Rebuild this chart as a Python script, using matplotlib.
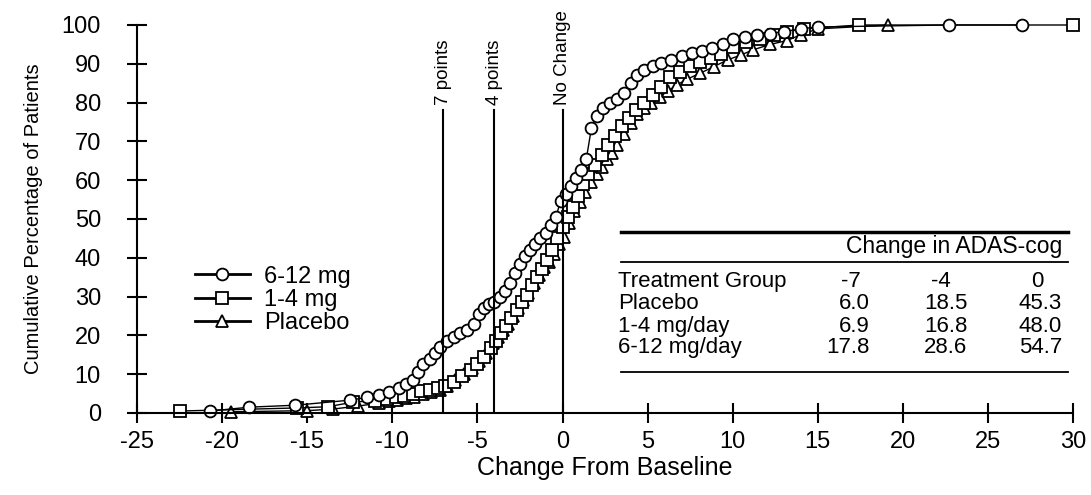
import matplotlib
matplotlib.use("Agg")
import matplotlib.pyplot as plt

# data
x_hi = [-20.7, -18.4, -15.7, -12.5, -11.5, -10.8, -10.2, -9.6, -9.2, -8.8, -8.5, -8.2, -7.8, -7.5,
        -7.2, -6.8, -6.4, -6.0, -5.6, -5.2, -4.9, -4.6, -4.3, -4.0, -3.7, -3.4, -3.1, -2.8, -2.5,
        -2.2, -1.9, -1.6, -1.3, -1.0, -0.7, -0.4, -0.1, 0.2, 0.5, 0.8, 1.1, 1.4, 1.7, 2.0, 2.4,
        2.8, 3.2, 3.6, 4.0, 4.4, 4.8, 5.3, 5.8, 6.4, 7.0, 7.6, 8.2, 8.8, 9.4, 10.0, 10.7, 11.4,
        12.2, 13.0, 14.0, 15.0, 22.7, 27.0]
y_hi = [0.5, 1.5, 2.0, 3.3, 4.0, 4.6, 5.5, 6.5, 7.5, 8.5, 10.5, 12.5, 14.0, 15.5, 17.0, 18.5,
        19.5, 20.5, 21.5, 23.0, 25.5, 27.0, 28.0, 28.6, 30.0, 31.5, 33.5, 36.0, 38.5, 40.5, 42.0,
        43.5, 45.0, 46.5, 48.5, 50.5, 54.7, 56.5, 58.5, 60.5, 62.5, 65.5, 73.5, 76.5, 78.5, 80.0,
        81.0, 82.5, 85.0, 87.0, 88.5, 89.5, 90.3, 91.0, 92.0, 92.7, 93.3, 94.0, 95.0, 96.3, 97.0,
        97.4, 97.8, 98.3, 99.0, 99.5, 100.0, 100.0]

x_lo = [-22.5, -15.6, -13.8, -12.3, -11.0, -10.3, -9.8, -9.3, -8.8, -8.3, -7.8, -7.3, -6.9, -6.4,
        -5.9, -5.4, -5.0, -4.6, -4.2, -3.9, -3.6, -3.3, -3.0, -2.7, -2.4, -2.1, -1.8, -1.5, -1.2,
        -0.9, -0.6, -0.3, 0.0, 0.3, 0.6, 0.9, 1.2, 1.5, 1.9, 2.3, 2.7, 3.1, 3.5, 3.9, 4.3, 4.8,
        5.3, 5.8, 6.3, 6.9, 7.5, 8.1, 8.7, 9.3, 10.0, 10.8, 11.6, 12.4, 13.2, 14.2, 17.4, 30.0]
y_lo = [0.5, 1.3, 1.6, 2.8, 3.2, 3.6, 4.0, 4.5, 5.0, 5.6, 6.0, 6.5, 6.9, 8.0, 9.5, 11.0, 12.5,
        14.5, 16.8, 18.5, 20.5, 22.5, 24.5, 26.5, 28.5, 30.5, 33.0, 35.0, 37.0, 39.5, 42.0, 45.0,
        48.0, 50.5, 53.0, 56.0, 59.0, 61.5, 64.0, 66.5, 69.0, 71.5, 74.0, 76.0, 78.0, 80.0, 82.0,
        84.0, 86.5, 88.0, 89.5, 90.5, 91.5, 92.5, 94.3, 95.6, 96.5, 97.5, 98.3, 99.0, 100.0, 100.0]

x_pl = [-19.5, -15.0, -13.5, -12.0, -10.8, -10.2, -9.7, -9.2, -8.7, -8.2, -7.7, -7.2, -6.8, -6.3,
        -5.8, -5.3, -4.9, -4.5, -4.1, -3.8, -3.5, -3.2, -2.9, -2.6, -2.3, -2.0, -1.7, -1.4, -1.1,
        -0.8, -0.5, -0.2, 0.1, 0.4, 0.7, 1.0, 1.3, 1.7, 2.0, 2.3, 2.6, 2.9, 3.2, 3.6, 4.0, 4.4,
        4.8, 5.2, 5.7, 6.2, 6.7, 7.3, 8.1, 8.9, 9.7, 10.5, 11.2, 12.2, 13.2, 14.0, 15.0, 19.1]
y_pl = [0.3, 0.6, 1.0, 1.8, 2.5, 3.0, 3.4, 3.8, 4.2, 4.8, 5.4, 6.0, 7.0, 8.5, 10.0, 11.5, 13.5,
        15.5, 18.0, 19.5, 21.4, 23.0, 25.0, 27.0, 29.0, 31.0, 33.5, 35.5, 37.5, 39.0, 41.0, 43.5,
        45.3, 49.0, 52.0, 54.5, 57.0, 59.5, 61.5, 63.4, 65.5, 67.0, 69.0, 72.0, 74.7, 77.0, 78.6,
        80.0, 81.5, 83.0, 84.5, 86.0, 87.6, 89.3, 91.0, 92.3, 93.6, 95.0, 96.0, 97.5, 99.0, 100.0]

cut_x = [-7, -4, 0]
cut_labels = ["7 points", "4 points", "No Change"]

tbl_groups = ["Placebo", "1-4 mg/day", "6-12 mg/day"]
tbl_vals = [["6.0", "18.5", "45.3"],
            ["6.9", "16.8", "48.0"],
            ["17.8", "28.6", "54.7"]]
tbl_cols = ["-7", "-4", "0"]

plt.rcParams["font.family"] = ["Liberation Sans", "DejaVu Sans"]
plt.rcParams["axes.unicode_minus"] = False

fig = plt.figure(figsize=(10.91, 4.95), dpi=100)
ax = fig.add_axes([0.1256, 0.1657, 0.858, 0.7838])

mk = dict(color="black", lw=1.0, markerfacecolor="white", markeredgecolor="black",
          markeredgewidth=1.3, markersize=8.5, clip_on=False)
ax.plot(x_pl, y_pl, marker="^", label="Placebo", **mk)
ax.plot(x_lo, y_lo, marker="s", label="1-4 mg", **mk)
ax.plot(x_hi, y_hi, marker="o", label="6-12 mg", **mk)

for cx, lab in zip(cut_x, cut_labels):
    ax.plot([cx, cx], [0, 78], color="black", lw=1.5)
    ax.text(cx, 79.5, lab, rotation=90, ha="center", va="bottom", fontsize=13.5)

ax.set_xlim(-25, 30)
ax.set_ylim(0, 100)
ax.set_xticks(range(-25, 31, 5))
ax.set_yticks(range(0, 101, 10))
ax.tick_params(direction="inout", length=14, width=1.5, labelsize=17)
ax.tick_params(axis="y", pad=19)
ax.tick_params(axis="x", pad=6)
for s in ["top", "right"]:
    ax.spines[s].set_visible(False)
for s in ["left", "bottom"]:
    ax.spines[s].set_linewidth(1.5)

ax.set_xlabel("Change From Baseline", fontsize=18)
ax.xaxis.set_label_coords(0.5, -0.112)
ax.set_ylabel("Cumulative Percentage of Patients", fontsize=14.5)
ax.yaxis.set_label_coords(-0.1, 0.5)

h, l = ax.get_legend_handles_labels()
leg = ax.legend(h[::-1], l[::-1], loc="upper left", bbox_to_anchor=(0.049, 0.41), frameon=False,
                fontsize=17, handlelength=2.35, handletextpad=0.6, labelspacing=0.05, borderpad=0)
for ln in leg.get_lines():
    ln.set_linewidth(2.0)

# summary table
tr = ax.transAxes
x0, x1 = 0.517, 0.995
ax.plot([x0, x1], [0.4665, 0.4665], color="black", lw=2.5, transform=tr, clip_on=False)
ax.plot([x0, x1], [0.389, 0.389], color="black", lw=1.3, transform=tr, clip_on=False)
ax.plot([x0, x1], [0.1057, 0.1057], color="black", lw=1.3, transform=tr, clip_on=False)
ax.text(0.988, 0.428, "Change in ADAS-cog", transform=tr, ha="right", va="center", fontsize=16.5)
row_y = [0.3376, 0.281, 0.224, 0.1675]
col_c = [0.763, 0.859, 0.962]
col_r = [0.783, 0.887, 0.988]
ax.text(0.514, row_y[0], "Treatment Group", transform=tr, ha="left", va="center", fontsize=16)
for cc, h_ in zip(col_c, tbl_cols):
    ax.text(cc, row_y[0], h_, transform=tr, ha="center", va="center", fontsize=16)
for ry, g, vals in zip(row_y[1:], tbl_groups, tbl_vals):
    ax.text(0.514, ry, g, transform=tr, ha="left", va="center", fontsize=16)
    for cr, v in zip(col_r, vals):
        ax.text(cr, ry, v, transform=tr, ha="right", va="center", fontsize=16)

fig.savefig("out.png", dpi=100)
